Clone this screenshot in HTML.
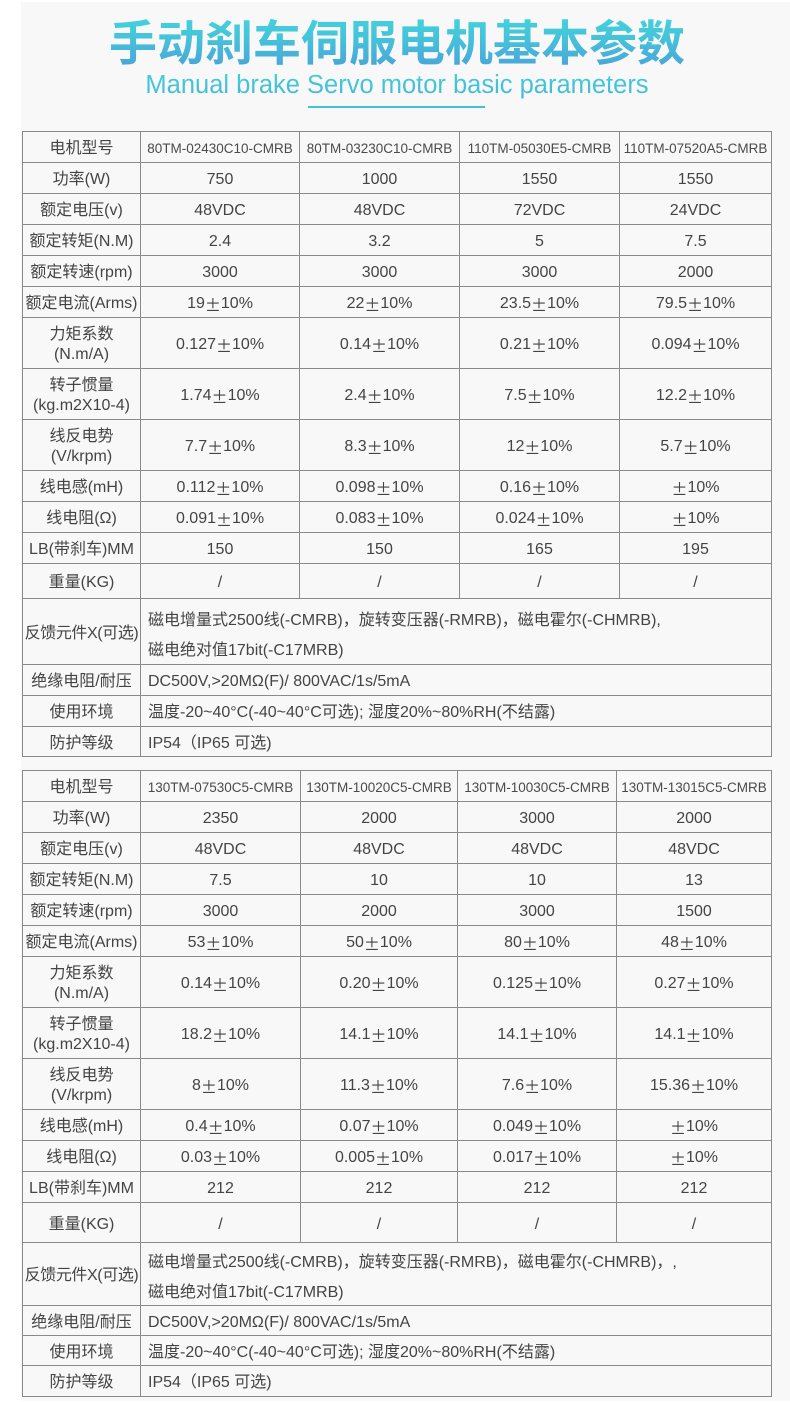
<!DOCTYPE html>
<html>
<head>
<meta charset="utf-8">
<style>
  html, body { margin:0; padding:0; }
  body { width:790px; height:1402px; position:relative; background:#ffffff; overflow:hidden;
         font-family:"Liberation Sans","Noto Sans CJK SC",sans-serif; color:#444; }
  .bg { position:absolute; left:21px; top:2px; width:769px; height:1399px; background:#f8f8f8; }
  .title { position:absolute; left:0; top:15px; width:794px; text-align:center;
           font-family:"Noto Sans CJK SC","WenQuanYi Zen Hei",sans-serif; font-weight:700;
           font-size:48px; line-height:48px; white-space:nowrap; }
  .title span { background:linear-gradient(180deg,#42dcdc 0%,#45c2da 50%,#4a9fd8 100%);
           -webkit-background-clip:text; background-clip:text; color:transparent; }
  .sub { position:absolute; left:0; top:72px; width:794px; text-align:center;
         font-family:"Liberation Sans",sans-serif; font-size:25.5px; line-height:26px; white-space:nowrap; }
  .sub span { background:linear-gradient(180deg,#3fd2d8 0%,#47b4d8 100%);
         -webkit-background-clip:text; background-clip:text; color:transparent; }
  .uline { position:absolute; left:308px; top:106px; width:177px; height:2px; background:#3ec3d8; }
  .tbl { position:absolute; left:22px; display:grid; background:#8a8a8a; padding:1px; gap:1px; }
  .t1 { top:131px; grid-template-columns:117px 158px 159px 159px 151px;
        grid-template-rows:30px 30px 30px 30px 30px 30px 50px 50px 50px 30px 30px 30px 34px 65px 30px 30px 29px; }
  .t2 { top:770px; grid-template-columns:117px 159px 156px 158px 154px;
        grid-template-rows:30px 30px 30px 30px 30px 30px 50px 50px 50px 30px 30px 30px 39px 62px 29px 29px 30px; }
  .tbl > div { background:#f8f8f8; display:flex; align-items:center; justify-content:center;
        text-align:center; font-size:16px; line-height:20px; white-space:nowrap; overflow:visible;
        padding-top:4px; box-sizing:border-box; }
  .tbl > div.m { font-size:13.5px; color:#4a4a4a; }
  .tbl > div.w { grid-column:2 / 6; justify-content:flex-start; text-align:left; padding-left:7px; line-height:30px; }
  .tbl > div.w2 { padding-top:8px; }
  .tbl > div.fb { letter-spacing:-0.4px; }
  .pm { font-family:"Noto Sans CJK SC",sans-serif; }
</style>
</head>
<body>
<div class="bg"></div>
<div class="title"><span>手动刹车伺服电机基本参数</span></div>
<div class="sub"><span>Manual brake Servo motor basic parameters</span></div>
<div class="uline"></div>

<div class="tbl t1">
  <div>电机型号</div><div class="m">80TM-02430C10-CMRB</div><div class="m">80TM-03230C10-CMRB</div><div class="m">110TM-05030E5-CMRB</div><div class="m">110TM-07520A5-CMRB</div>
  <div>功率(W)</div><div>750</div><div>1000</div><div>1550</div><div>1550</div>
  <div>额定电压(v)</div><div>48VDC</div><div>48VDC</div><div>72VDC</div><div>24VDC</div>
  <div>额定转矩(N.M)</div><div>2.4</div><div>3.2</div><div>5</div><div>7.5</div>
  <div>额定转速(rpm)</div><div>3000</div><div>3000</div><div>3000</div><div>2000</div>
  <div>额定电流(Arms)</div><div>19<span class="pm">±</span>10%</div><div>22<span class="pm">±</span>10%</div><div>23.5<span class="pm">±</span>10%</div><div>79.5<span class="pm">±</span>10%</div>
  <div>力矩系数<br>(N.m/A)</div><div>0.127<span class="pm">±</span>10%</div><div>0.14<span class="pm">±</span>10%</div><div>0.21<span class="pm">±</span>10%</div><div>0.094<span class="pm">±</span>10%</div>
  <div>转子惯量<br>(kg.m2X10-4)</div><div>1.74<span class="pm">±</span>10%</div><div>2.4<span class="pm">±</span>10%</div><div>7.5<span class="pm">±</span>10%</div><div>12.2<span class="pm">±</span>10%</div>
  <div>线反电势<br>(V/krpm)</div><div>7.7<span class="pm">±</span>10%</div><div>8.3<span class="pm">±</span>10%</div><div>12<span class="pm">±</span>10%</div><div>5.7<span class="pm">±</span>10%</div>
  <div>线电感(mH)</div><div>0.112<span class="pm">±</span>10%</div><div>0.098<span class="pm">±</span>10%</div><div>0.16<span class="pm">±</span>10%</div><div><span class="pm">±</span>10%</div>
  <div>线电阻(Ω)</div><div>0.091<span class="pm">±</span>10%</div><div>0.083<span class="pm">±</span>10%</div><div>0.024<span class="pm">±</span>10%</div><div><span class="pm">±</span>10%</div>
  <div>LB(带刹车)MM</div><div>150</div><div>150</div><div>165</div><div>195</div>
  <div>重量(KG)</div><div>/</div><div>/</div><div>/</div><div>/</div>
  <div class="fb">反馈元件X(可选)</div><div class="w w2">磁电增量式2500线(-CMRB)，旋转变压器(-RMRB)，磁电霍尔(-CHMRB),<br>磁电绝对值17bit(-C17MRB)</div>
  <div>绝缘电阻/耐压</div><div class="w">DC500V,&gt;20MΩ(F)/ 800VAC/1s/5mA</div>
  <div>使用环境</div><div class="w">温度-20~40°C(-40~40°C可选); 湿度20%~80%RH(不结露)</div>
  <div>防护等级</div><div class="w">IP54（IP65 可选)</div>
</div>

<div class="tbl t2">
  <div>电机型号</div><div class="m">130TM-07530C5-CMRB</div><div class="m">130TM-10020C5-CMRB</div><div class="m">130TM-10030C5-CMRB</div><div class="m">130TM-13015C5-CMRB</div>
  <div>功率(W)</div><div>2350</div><div>2000</div><div>3000</div><div>2000</div>
  <div>额定电压(v)</div><div>48VDC</div><div>48VDC</div><div>48VDC</div><div>48VDC</div>
  <div>额定转矩(N.M)</div><div>7.5</div><div>10</div><div>10</div><div>13</div>
  <div>额定转速(rpm)</div><div>3000</div><div>2000</div><div>3000</div><div>1500</div>
  <div>额定电流(Arms)</div><div>53<span class="pm">±</span>10%</div><div>50<span class="pm">±</span>10%</div><div>80<span class="pm">±</span>10%</div><div>48<span class="pm">±</span>10%</div>
  <div>力矩系数<br>(N.m/A)</div><div>0.14<span class="pm">±</span>10%</div><div>0.20<span class="pm">±</span>10%</div><div>0.125<span class="pm">±</span>10%</div><div>0.27<span class="pm">±</span>10%</div>
  <div>转子惯量<br>(kg.m2X10-4)</div><div>18.2<span class="pm">±</span>10%</div><div>14.1<span class="pm">±</span>10%</div><div>14.1<span class="pm">±</span>10%</div><div>14.1<span class="pm">±</span>10%</div>
  <div>线反电势<br>(V/krpm)</div><div>8<span class="pm">±</span>10%</div><div>11.3<span class="pm">±</span>10%</div><div>7.6<span class="pm">±</span>10%</div><div>15.36<span class="pm">±</span>10%</div>
  <div>线电感(mH)</div><div>0.4<span class="pm">±</span>10%</div><div>0.07<span class="pm">±</span>10%</div><div>0.049<span class="pm">±</span>10%</div><div><span class="pm">±</span>10%</div>
  <div>线电阻(Ω)</div><div>0.03<span class="pm">±</span>10%</div><div>0.005<span class="pm">±</span>10%</div><div>0.017<span class="pm">±</span>10%</div><div><span class="pm">±</span>10%</div>
  <div>LB(带刹车)MM</div><div>212</div><div>212</div><div>212</div><div>212</div>
  <div>重量(KG)</div><div>/</div><div>/</div><div>/</div><div>/</div>
  <div class="fb">反馈元件X(可选)</div><div class="w w2">磁电增量式2500线(-CMRB)，旋转变压器(-RMRB)，磁电霍尔(-CHMRB)，,<br>磁电绝对值17bit(-C17MRB)</div>
  <div>绝缘电阻/耐压</div><div class="w">DC500V,&gt;20MΩ(F)/ 800VAC/1s/5mA</div>
  <div>使用环境</div><div class="w">温度-20~40°C(-40~40°C可选); 湿度20%~80%RH(不结露)</div>
  <div>防护等级</div><div class="w">IP54（IP65 可选)</div>
</div>
</body>
</html>
